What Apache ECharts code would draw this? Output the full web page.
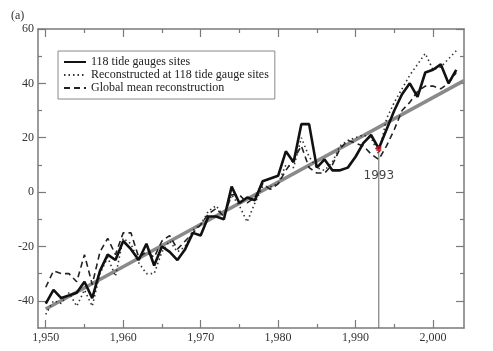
<!DOCTYPE html>
<html>
<head>
<meta charset="utf-8">
<script src="https://cdn.jsdelivr.net/npm/echarts@6/dist/echarts.min.js"></script>
<style>
  html, body { margin: 0; padding: 0; background: #fff; }
  #chart { width: 493px; height: 351px; }
</style>
</head>
<body>
<div id="chart"></div>
<script>
// ── data ──
const years = [];
for (let y = 1950; y <= 2003; y++) years.push(y);

const gauges = [
  -41, -36, -39, -38, -37, -33, -39, -29, -23, -25,
  -18, -21, -25, -19, -27, -20, -22, -25, -21, -15,
  -16, -9, -9, -10, 2, -4, -2, -3, 4, 5,
  6, 15, 11, 25, 25, 9, 12, 8, 8, 9,
  13, 18, 21, 16, 23, 30, 36, 40, 35, 44,
  45, 47, 40, 45
];
const reconSites = [
  -45, -40, -41, -37, -42, -36, -42, -30, -24, -31,
  -17, -19, -26, -30, -30, -22, -18, -22, -20, -14,
  -12, -7, -5, -9, -1, -5, -11, -4, 2, 2,
  3, 10, 9, 20, 13, 9, 8, 11, 17, 19,
  20, 21, 20, 14, 27, 33, 38, 43, 47, 51,
  45, 46, 49, 52
];
const globalMean = [
  -35, -29, -30, -30, -33, -23, -34, -22, -17, -23,
  -15, -15, -24, -22, -24, -18, -16, -21, -18, -15,
  -12, -8, -6, -9, -1, -1, -4, -2, 3, 1,
  3, 8, 12, 17, 9, 7, 7, 10, 16, 19,
  18, 17, 14, 12, 17, 23, 30, 33, 37, 39,
  39, 38, 40, 44
];
const trendEnds = [[1950, -43], [2004, 41]];
const markYear = 1993;
const markValue = 16;

const xMajor = [1950, 1960, 1970, 1980, 1990, 2000];
const xMinor = [1955, 1965, 1975, 1985, 1995];
const yMajor = [-40, -20, 0, 20, 40, 60];
const yMinor = [-30, -10, 10, 30, 50];

const seriesNames = [
  '118 tide gauges sites',
  'Reconstructed at 118 tide gauge sites',
  'Global mean reconstruction'
];

const pair = (arr) => years.map((y, i) => [y, arr[i]]);

const frame = '#7a7a7a';
const serif = '"Liberation Serif", "DejaVu Serif", serif';

function xAx(pos, ticks, len, labels, showLine) {
  return {
    type: 'value', position: pos, min: 1949, max: 2004,
    axisLine: { show: showLine, onZero: false, lineStyle: { color: frame, width: 1.5 } },
    axisTick: { show: true, inside: true, length: len, customValues: ticks,
      lineStyle: { color: frame, width: 1.2 } },
    axisLabel: labels ? { show: true, customValues: ticks, color: '#333',
      fontFamily: serif, fontSize: 12, margin: 4 } : { show: false },
    splitLine: { show: false }
  };
}
function yAx(pos, ticks, len, labels, showLine) {
  return {
    type: 'value', position: pos, min: -50, max: 60,
    axisLine: { show: showLine, onZero: false, lineStyle: { color: frame, width: 1.5 } },
    axisTick: { show: true, inside: true, length: len, customValues: ticks,
      lineStyle: { color: frame, width: 1.2 } },
    axisLabel: labels ? { show: true, customValues: ticks, color: '#333',
      fontFamily: serif, fontSize: 12, margin: 4 } : { show: false },
    splitLine: { show: false }
  };
}

const chart = echarts.init(document.getElementById('chart'), null, { renderer: 'canvas' });

chart.setOption({
  animation: false,
  backgroundColor: '#fff',
  title: {
    text: '(a)', left: 6, top: 5,
    textStyle: { fontFamily: serif, fontSize: 12, fontWeight: 'normal', color: '#333' }
  },
  grid: { left: 38, right: 29, top: 29, bottom: 23 },
  legend: {
    left: 58, top: 51, orient: 'vertical',
    data: seriesNames,
    itemWidth: 22, itemHeight: 8, itemGap: 1,
    padding: [5, 6, 5, 5],
    itemStyle: { opacity: 0 },
    borderColor: '#888', borderWidth: 1, backgroundColor: '#fff',
    textStyle: { fontFamily: serif, fontSize: 12, color: '#222' }
  },
  xAxis: [
    xAx('bottom', xMajor, 8, true, true),
    xAx('bottom', xMinor, 4, false, false),
    xAx('top', xMajor, 8, false, true),
    xAx('top', xMinor, 4, false, false)
  ],
  yAxis: [
    yAx('left', yMajor, 8, true, true),
    yAx('left', yMinor, 4, false, false),
    yAx('right', yMajor, 8, false, true),
    yAx('right', yMinor, 4, false, false)
  ],
  series: [
    {
      name: 'trend', type: 'line', data: trendEnds, symbol: 'none',
      lineStyle: { color: '#8a8a8a', width: 3.5 }, z: 1, silent: true
    },
    {
      name: seriesNames[2], type: 'line', data: pair(globalMean), symbol: 'none',
      itemStyle: { color: '#222' },
      lineStyle: { color: '#222', width: 1.6, type: [6, 4] }, z: 3
    },
    {
      name: seriesNames[1], type: 'line', data: pair(reconSites), symbol: 'none',
      itemStyle: { color: '#333' },
      lineStyle: { color: '#333', width: 1.6, type: [1.5, 3] }, z: 3
    },
    {
      name: seriesNames[0], type: 'line', data: pair(gauges), symbol: 'none',
      itemStyle: { color: '#111' },
      lineStyle: { color: '#111', width: 2.6 }, z: 4
    },
    {
      name: 'marker', type: 'line', data: [[markYear, markValue], [markYear, -50]],
      symbol: 'none', lineStyle: { color: '#666', width: 1 }, z: 5, silent: true
    },
    {
      name: 'markerDot', type: 'scatter', data: [[markYear, markValue]],
      symbol: 'rect', symbolSize: 5, itemStyle: { color: '#c0141c' }, z: 6,
      label: {
        show: true, position: 'bottom', distance: 19, formatter: String(markYear),
        fontFamily: '"DejaVu Sans", sans-serif', fontSize: 12, color: '#111'
      }
    }
  ]
});
</script>
</body>
</html>
